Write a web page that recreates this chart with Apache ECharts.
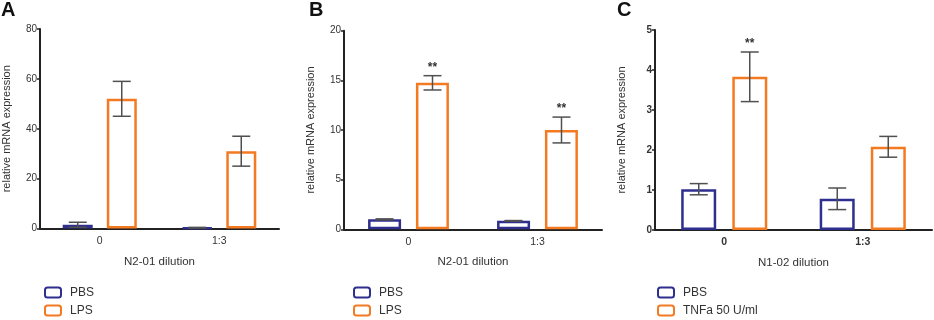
<!DOCTYPE html>
<html><head><meta charset="utf-8">
<script src="https://cdn.jsdelivr.net/npm/echarts@6/dist/echarts.min.js"></script>
<style>html,body{margin:0;padding:0;background:#fff}#c{width:934px;height:320px}</style>
</head><body><div id="c"></div>
<script>
// ---- data ----
var categories = ['0', '1:3'];
// Panel A
var aPBS = [1.5, 0.3];      var aPBSerr = [1.0, 0.15];
var aLPS = [52, 31];        var aLPSerr = [7, 6];
var aSig = ['', ''];
// Panel B
var bPBS = [1.0, 0.85];     var bPBSerr = [0.05, 0.03];
var bLPS = [14.75, 10.0];   var bLPSerr = [0.72, 1.3];
var bSig = ['**', '**'];
// Panel C
var cPBS = [1.02, 0.78];    var cPBSerr = [0.14, 0.27];
var cTNF = [3.83, 2.08];    var cTNFerr = [0.62, 0.26];
var cSig = ['**', ''];
var yTicksA = [0, 80, 20], yTicksB = [0, 20, 5], yTicksC = [0, 5, 1];
var xNames = ['N2-01 dilution', 'N2-01 dilution', 'N1-02 dilution'];
var yName = 'relative mRNA expression';
var legendNames = [['PBS', 'LPS'], ['PBS', 'LPS'], ['PBS', 'TNFa 50 U/ml']];

var BLUE = '#2e2f8e', ORANGE = '#f47a22', AX = '#222', ERR = '#505050';
var FONT = 'Liberation Sans, Arial, sans-serif';

var chart = echarts.init(document.getElementById('c'));

var grids = [
  {left: 35, right: 655, top: 29, bottom: 91.5},
  {left: 344, right: 332, top: 30.7, bottom: 90.7},
  {left: 655, right: 2, top: 30, bottom: 90}
];
var ticks = [yTicksA, yTicksB, yTicksC];
var panels = [
  {s1: aPBS, e1: aPBSerr, s2: aLPS, e2: aLPSerr, sig: aSig, bw: 30, off: 22, gap: '47%', cap: 18},
  {s1: bPBS, e1: bPBSerr, s2: bLPS, e2: bLPSerr, sig: bSig, bw: 33, off: 24, gap: '45%', cap: 18},
  {s1: cPBS, e1: cPBSerr, s2: cTNF, e2: cTNFerr, sig: cSig, bw: 35, off: 25.5, gap: '46%', cap: 18}
];

var xAxes = [], yAxes = [], series = [], legends = [];
var legendLeft = [44, 353, 657];

function errRender(offset, cap, sig) {
  return function (params, api) {
    var i = api.value(0);
    var lo = api.coord([i, api.value(1)]);
    var hi = api.coord([i, api.value(2)]);
    var x = lo[0] + offset;
    var st = {stroke: ERR, lineWidth: 1.5};
    var children = [
      {type: 'line', shape: {x1: x, y1: lo[1], x2: x, y2: hi[1]}, style: st},
      {type: 'line', shape: {x1: x - cap / 2, y1: lo[1], x2: x + cap / 2, y2: lo[1]}, style: st},
      {type: 'line', shape: {x1: x - cap / 2, y1: hi[1], x2: x + cap / 2, y2: hi[1]}, style: st}
    ];
    if (sig && sig[params.dataIndex]) {
      children.push({type: 'text', style: {text: sig[params.dataIndex], x: x, y: hi[1] - 8,
        textAlign: 'center', textVerticalAlign: 'middle', fill: '#333', font: 'bold 12px ' + FONT}});
    }
    return {type: 'group', children: children};
  };
}

panels.forEach(function (p, k) {
  xAxes.push({
    type: 'category', gridIndex: k, data: categories,
    name: xNames[k], nameLocation: 'middle', nameGap: 27,
    nameTextStyle: {color: '#333', fontSize: 11.5, fontFamily: FONT},
    axisLine: {lineStyle: {color: AX, width: 2}},
    axisTick: {alignWithLabel: true, length: 5, lineStyle: {color: AX, width: 1.5}},
    axisLabel: {color: '#333', fontSize: 10.5, margin: 7, fontFamily: FONT, fontWeight: k === 2 ? 'bold' : 'normal'}
  });
  yAxes.push({
    type: 'value', gridIndex: k, min: ticks[k][0], max: ticks[k][1], interval: ticks[k][2],
    name: yName, nameLocation: 'middle', nameGap: 28,
    nameTextStyle: {color: '#333', fontSize: 11, fontFamily: FONT},
    axisLine: {show: true, lineStyle: {color: AX, width: 2}},
    axisTick: {show: true, length: 3, lineStyle: {color: AX, width: 1.5}},
    axisLabel: {color: '#333', fontSize: 10, margin: 3, fontFamily: FONT, fontWeight: k === 2 ? 'bold' : 'normal'},
    splitLine: {show: false}
  });
  var names = legendNames[k];
  series.push({
    type: 'bar', name: names[0], xAxisIndex: k, yAxisIndex: k, data: p.s1,
    barWidth: p.bw, barGap: p.gap,
    itemStyle: {color: '#fff', borderColor: BLUE, borderWidth: 2.5}
  });
  series.push({
    type: 'bar', name: names[1], xAxisIndex: k, yAxisIndex: k, data: p.s2,
    barWidth: p.bw, barGap: p.gap,
    itemStyle: {color: '#fff', borderColor: ORANGE, borderWidth: 2.5}
  });
  series.push({
    type: 'custom', xAxisIndex: k, yAxisIndex: k, z: 5,
    renderItem: errRender(-p.off, p.cap, null),
    data: p.s1.map(function (v, i) { return [i, v - p.e1[i], v + p.e1[i]]; })
  });
  series.push({
    type: 'custom', xAxisIndex: k, yAxisIndex: k, z: 5,
    renderItem: errRender(p.off, p.cap, p.sig),
    data: p.s2.map(function (v, i) { return [i, v - p.e2[i], v + p.e2[i]]; })
  });
  legends.push({
    orient: 'vertical', left: legendLeft[k], top: 286, height: 34, padding: 0,
    itemWidth: 16, itemHeight: 10, itemGap: 5,
    data: names.map(function (n, j) {
      return {name: n, icon: 'roundRect',
        itemStyle: {color: '#fff', borderColor: j === 0 ? BLUE : ORANGE, borderWidth: 2}};
    }),
    textStyle: {color: '#333', fontSize: 12, fontFamily: FONT, lineHeight: 13, padding: [0, 0, 0, 4]}, selectedMode: false
  });
});

chart.setOption({
  animation: false,
  backgroundColor: '#fff',
  grid: grids,
  xAxis: xAxes,
  yAxis: yAxes,
  legend: legends,
  series: series,
  graphic: [
    {type: 'text', left: 1, top: 0, style: {text: 'A', font: 'bold 20px ' + FONT, fill: '#111'}},
    {type: 'text', left: 309, top: 0, style: {text: 'B', font: 'bold 20px ' + FONT, fill: '#111'}},
    {type: 'text', left: 617, top: 0, style: {text: 'C', font: 'bold 20px ' + FONT, fill: '#111'}}
  ]
});
</script></body></html>
